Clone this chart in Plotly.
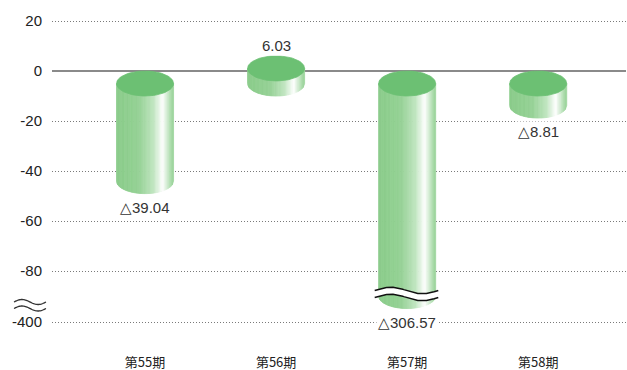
import numpy as np
import plotly.graph_objects as go

# ---- data ----
periods = ["第55期", "第56期", "第57期", "第58期"]
values = [-39.04, 6.03, -306.57, -8.81]
tick_values = [20, 0, -20, -40, -60, -80, -400]
tick_labels = ["20", "0", "-20", "-40", "-60", "-80", "-400"]

# ---- broken axis settings ----
BREAK_AT = -80            # values below this are beyond the axis break
BREAK_TICK_DISPLAY = -100.4  # display position of ticks beyond the break
BAR_CLIP = -85            # bars beyond the break are cut just past it


def bar_disp(v):
    return v if v >= BREAK_AT else BAR_CLIP


def tick_disp(v):
    return v if v >= BREAK_AT else BREAK_TICK_DISPLAY


def label_text(v):
    return ("△" + f"{abs(v):.2f}") if v < 0 else f"{v:.2f}"


# ---- cylinder geometry (axis units) ----
A_X = 0.2176   # half width in x units
B_Y = 5.0      # ellipse half height in y units
N_STRIPS = 44

stops_u = [-1.0, -0.2, 0.3, 0.63, 0.86, 1.0]
stops_c = [(138, 204, 138), (150, 210, 150), (192, 229, 192),
           (255, 255, 255), (188, 227, 188), (150, 210, 150)]
TOP_COLOR = "rgb(108,192,115)"


def grad(u):
    r = np.interp(u, stops_u, [c[0] for c in stops_c])
    g = np.interp(u, stops_u, [c[1] for c in stops_c])
    b = np.interp(u, stops_u, [c[2] for c in stops_c])
    return f"rgb({int(r)},{int(g)},{int(b)})"


fig = go.Figure()

for i, v in enumerate(values):
    d = bar_disp(v)
    upper = max(d, 0)
    lower = min(d, 0)
    top_c = upper - B_Y
    bot_c = lower - B_Y
    us = np.linspace(-1, 1, N_STRIPS + 1)
    for j in range(N_STRIPS):
        u0, u1 = us[j], us[j + 1]
        uu = np.linspace(u1, u0, 4)
        xs = [i + A_X * u0, i + A_X * u1] + list(i + A_X * uu) + [i + A_X * u0]
        ys = [top_c, top_c] + list(bot_c - B_Y * np.sqrt(np.clip(1 - uu ** 2, 0, 1))) + [top_c]
        col = grad((u0 + u1) / 2)
        fig.add_trace(go.Scatter(x=xs, y=ys, mode="lines", fill="toself",
                                 fillcolor=col, line=dict(width=0.8, color=col),
                                 hoverinfo="skip", showlegend=False))
    th = np.linspace(0, 2 * np.pi, 80)
    fig.add_trace(go.Scatter(x=i + A_X * np.cos(th), y=top_c + B_Y * np.sin(th),
                             mode="lines", fill="toself", fillcolor=TOP_COLOR,
                             line=dict(width=0.8, color=TOP_COLOR),
                             hoverinfo="skip", showlegend=False))
    # break marks on bars that exceed the axis break
    if v < BREAK_AT:
        t = np.linspace(0, 1, 60)
        xw = i - A_X - 0.03 + (2 * A_X + 0.05) * t
        amp = 1.3
        y1 = -87.8 + amp * np.sin(2 * np.pi * t)
        y2 = -90.6 + amp * np.sin(2 * np.pi * t)
        fig.add_trace(go.Scatter(x=list(xw) + list(xw[::-1]), y=list(y1) + list(y2[::-1]),
                                 mode="lines", fill="toself", fillcolor="white",
                                 line=dict(width=0), hoverinfo="skip", showlegend=False))
        for yy in (y1, y2):
            fig.add_trace(go.Scatter(x=xw, y=yy, mode="lines",
                                     line=dict(width=1.5, color="#111"),
                                     hoverinfo="skip", showlegend=False))
    # value labels
    if v < 0:
        fig.add_annotation(x=i, y=bot_c - B_Y, text=label_text(v), showarrow=False,
                           yanchor="top", yshift=-3, bgcolor="white",
                           font=dict(family="Liberation Sans, Arial", size=15, color="#333"))
    else:
        fig.add_annotation(x=i, y=upper, text=label_text(v), showarrow=False,
                           yanchor="bottom", yshift=0, bgcolor="white",
                           font=dict(family="Liberation Sans, Arial", size=15, color="#333"))

# axis break symbol on the y axis (paper coords)
PLOT_L, PLOT_W, PLOT_H = 52, 574, 346


def px_to_paper(px, py):
    return (px - PLOT_L) / PLOT_W, (PLOT_H - py) / PLOT_H


t = np.linspace(0, 1, 40)
for cy in (302.0, 308.5):
    pts = [px_to_paper(14 + 32 * tt, cy - 2.5 * np.sin(2 * np.pi * tt)) for tt in t]
    path = "M " + " L ".join(f"{a:.5f},{b:.5f}" for a, b in pts)
    fig.add_shape(type="path", path=path, xref="paper", yref="paper",
                  line=dict(color="#333", width=1.3))

fig.update_layout(
    width=627, height=370,
    margin=dict(l=PLOT_L, r=1, t=0, b=24),
    paper_bgcolor="white", plot_bgcolor="white",
    showlegend=False,
    xaxis=dict(range=[-0.71, 3.67], tickvals=list(range(len(periods))), ticktext=periods,
               showgrid=False, zeroline=False, showline=False,
               ticks="outside", ticklen=4, tickcolor="rgba(0,0,0,0)",
               tickfont=dict(family="Noto Sans CJK JP", size=13, color="#222"),
               fixedrange=True),
    yaxis=dict(range=[-110, 28.4], tickvals=[tick_disp(v) for v in tick_values],
               ticktext=tick_labels, showgrid=True, gridcolor="#7a7a7a", gridwidth=1,
               griddash="1px,2px", zeroline=True, zerolinecolor="#8a8a8a", zerolinewidth=2,
               showline=False, ticks="outside", ticklen=6, tickcolor="rgba(0,0,0,0)",
               tickfont=dict(family="Liberation Sans, Arial", size=15, color="#222"),
               fixedrange=True),
)

fig.write_html("out.html")
